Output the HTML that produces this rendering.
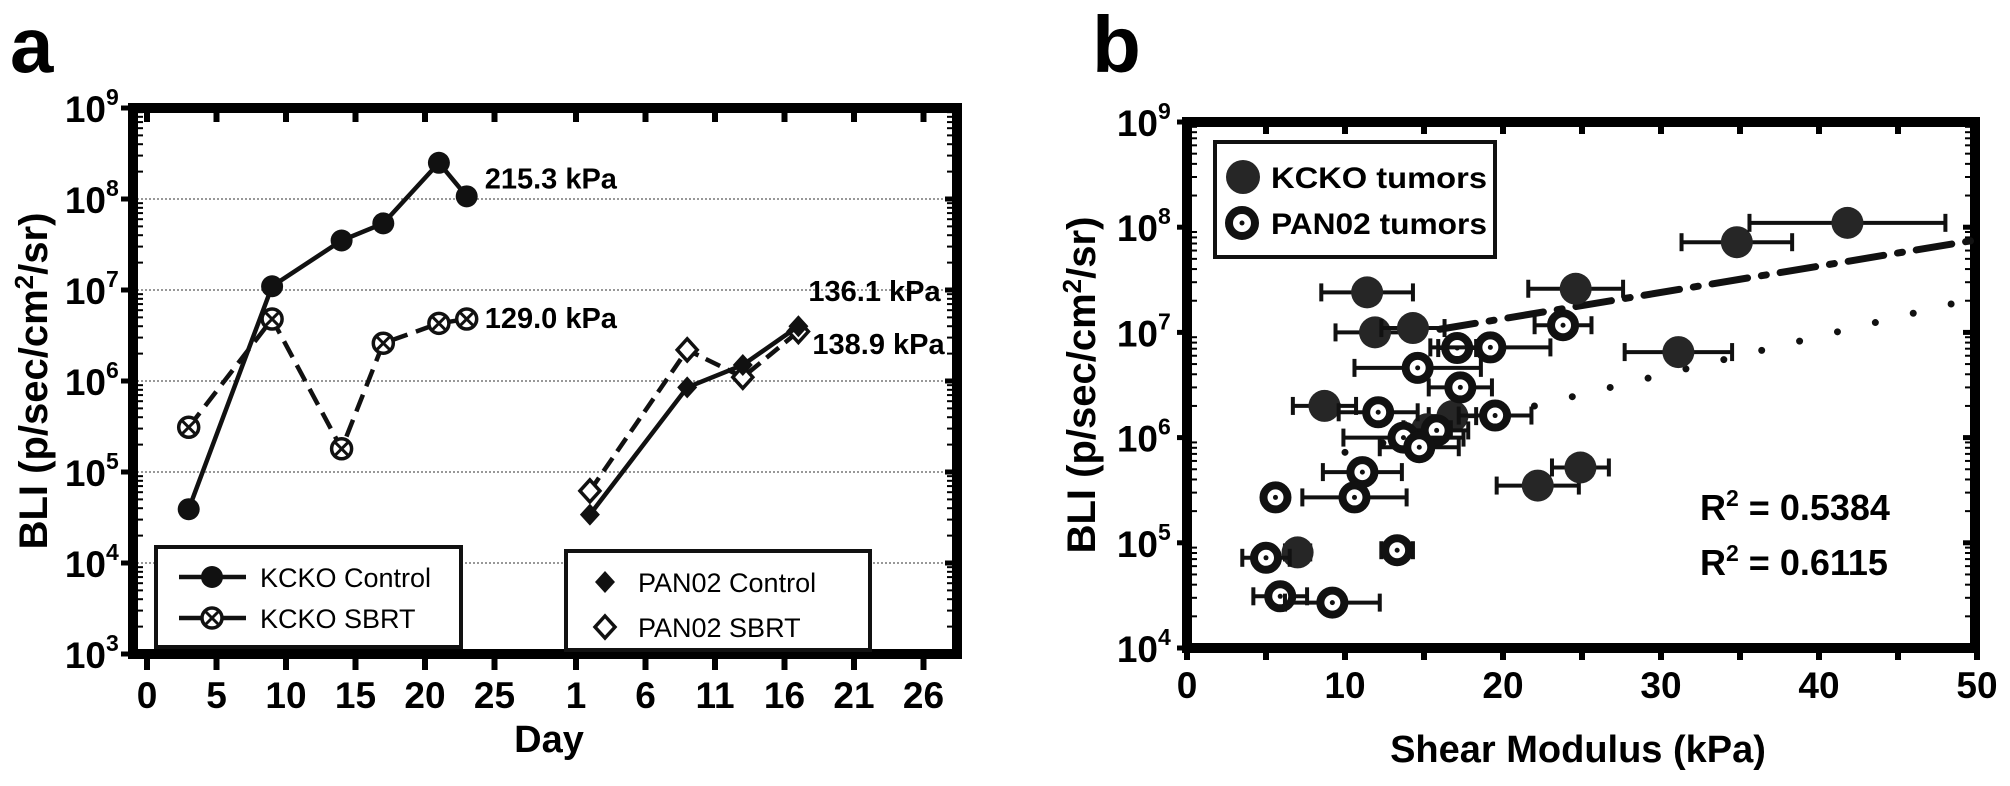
<!DOCTYPE html>
<html><head><meta charset="utf-8"><style>
html,body{margin:0;padding:0;background:#fff;}
svg{display:block;font-family:"Liberation Sans",Arial,sans-serif;}
</style></head><body>
<svg id="fig" width="2010" height="786" viewBox="0 0 2010 786">
<g id="pa"></g>
<g id="pb"></g>
</svg>
<script>
// ---------- Panel A data ----------
const kckoDays = [3, 9, 14, 17, 21, 23];
const kckoControl = [3.9e4, 1.1e7, 3.5e7, 5.4e7, 2.5e8, 1.07e8];
const kckoSbrt = [3.1e5, 4.8e6, 1.8e5, 2.6e6, 4.3e6, 4.8e6];
const panDays = [2, 9, 13, 17];
const panControl = [3.4e4, 8.5e5, 1.5e6, 4.0e6];
const panSbrt = [6.2e4, 2.2e6, 1.1e6, 3.5e6];
const aXTicksSeg0 = [0, 5, 10, 15, 20, 25];
const aXTicksSeg1 = [1, 6, 11, 16, 21, 26];
const aYDecades = [3, 4, 5, 6, 7, 8, 9];
const aNotes = ["215.3 kPa", "129.0 kPa", "136.1 kPa", "138.9 kPa"];
// ---------- Panel B data ----------
const kckoShear = [11.4, 11.9, 14.3, 8.7, 7.0, 16.8, 22.2, 24.9, 24.6, 34.8, 41.8, 31.1, 15.2];
const kckoBli = [2.4e7, 1.0e7, 1.1e7, 2.0e6, 8.1e4, 1.6e6, 3.5e5, 5.2e5, 2.6e7, 7.2e7, 1.1e8, 6.5e6, 1.2e6];
const kckoErr = [2.9, 2.5, 2.0, 2.0, 0.8, 1.5, 2.6, 1.8, 3.0, 3.5, 6.2, 3.4, 1.5];
const panShear = [23.8, 17.1, 19.2, 14.6, 17.3, 12.1, 19.5, 15.8, 13.7, 14.7, 11.1, 10.6, 5.6, 13.3, 5.0, 5.9, 9.2];
const panBli = [1.17e7, 7.1e6, 7.2e6, 4.6e6, 3.0e6, 1.74e6, 1.62e6, 1.17e6, 1.0e6, 8.1e5, 4.7e5, 2.7e5, 2.7e5, 8.5e4, 7.2e4, 3.1e4, 2.7e4];
const panErr = [1.8, 1.2, 3.8, 4.0, 2.0, 2.5, 2.3, 2.0, 3.8, 2.5, 2.5, 3.3, 0.6, 1.0, 1.5, 1.7, 3.0];
const fitKcko = [[16, 7.03], [50, 7.88]];
const fitPan = [[10, 5.86], [50, 7.33]];
const bXTicks = [0, 10, 20, 30, 40, 50];
const bYDecades = [4, 5, 6, 7, 8, 9];
const rSquared = ["0.5384", "0.6115"];

const NS = "http://www.w3.org/2000/svg";
function mk(parent, tag, attrs, text) {
  const e = document.createElementNS(NS, tag);
  for (const k in attrs) e.setAttribute(k, attrs[k]);
  if (text !== undefined) e.textContent = text;
  parent.appendChild(e);
  return e;
}
const A = document.getElementById('pa');
const B = document.getElementById('pb');

// ---------- Panel A ----------
const aL = 133, aR = 957, aT = 108, aB = 654;
function ayA(v) { return aB - (Math.log10(v) - 3) * 91; }
function ayLog(l) { return aB - (l - 3) * 91; }
function axA0(d) { return 147 + 13.9 * d; }
function axA1(d) { return 576 + 13.9 * (d - 1); }

let t = mk(A, 'text', {x: 10, y: 72, 'font-size': 78, 'font-weight': 'bold'}, 'a');



// grid
aYDecades.forEach(d => {
  if (d > 3 && d < 9) {
    const g = mk(A, 'line', {x1: aL, x2: aR, y1: ayLog(d), y2: ayLog(d), stroke: '#777', 'stroke-width': 1.5, 'stroke-dasharray': '2 2'});
    
    
  }
});
// minor ticks
for (let d = 3; d < 9; d++) {
  for (let m = 2; m <= 9; m++) {
    const y = ayLog(d + Math.log10(m));
    mk(A, 'line', {x1: aL, x2: aL + 10, y1: y, y2: y, stroke: '#000', 'stroke-width': 2});
    mk(A, 'line', {x1: aR - 10, x2: aR, y1: y, y2: y, stroke: '#000', 'stroke-width': 2});
  }
}
// y tick labels
aYDecades.forEach(d => {
  const y = ayLog(d);
  mk(A, 'line', {x1: aL - 12, x2: aL, y1: y, y2: y, stroke: '#000', 'stroke-width': 5});
  mk(A, 'line', {x1: aR, x2: aR - 12, y1: y, y2: y, stroke: '#000', 'stroke-width': 5});
  const tl = mk(A, 'text', {x: 106, y: y + 14, 'font-size': 37, 'font-weight': 'bold', 'text-anchor': 'end'}, '10');
  
  
  mk(A, 'text', {x: 106, y: y - 3, 'font-size': 23, 'font-weight': 'bold'}, String(d));
});
// x ticks
aXTicksSeg0.forEach(d => {
  const x = axA0(d);
  mk(A, 'line', {x1: x, x2: x, y1: aB, y2: aB + 16, stroke: '#000', 'stroke-width': 6});
  mk(A, 'line', {x1: x, x2: x, y1: aT, y2: aT + 14, stroke: '#000', 'stroke-width': 6});
  const tl = mk(A, 'text', {x: x, y: 708, 'font-size': 37, 'font-weight': 'bold', 'text-anchor': 'middle'}, String(d));
  
  
});
aXTicksSeg1.forEach(d => {
  const x = axA1(d);
  mk(A, 'line', {x1: x, x2: x, y1: aB, y2: aB + 16, stroke: '#000', 'stroke-width': 6});
  mk(A, 'line', {x1: x, x2: x, y1: aT, y2: aT + 14, stroke: '#000', 'stroke-width': 6});
  const tl = mk(A, 'text', {x: x, y: 708, 'font-size': 37, 'font-weight': 'bold', 'text-anchor': 'middle'}, String(d));
  
  
});
// axis frame
let fr = mk(A, 'rect', {x: aL, y: aT, width: aR - aL, height: aB - aT, fill: 'none', stroke: '#000', 'stroke-width': 10});



// titles
t = mk(A, 'text', {x: 549, y: 752, 'font-size': 38, 'font-weight': 'bold', 'text-anchor': 'middle'}, 'Day');


t = mk(A, 'text', {x: 0, y: 0, 'font-size': 40, 'font-weight': 'bold', 'text-anchor': 'middle', transform: 'translate(47,381) rotate(-90)'});


t.innerHTML = 'BLI (p/sec/cm<tspan font-size="26" dy="-14">2</tspan><tspan dy="14">/sr)</tspan>';

function marker(parent, kind, x, y) {
  let e;
  if (kind === 'dot') {
    e = mk(parent, 'circle', {cx: x, cy: y, r: 11, fill: '#111'});
  } else if (kind === 'otimes') {
    e = mk(parent, 'g', {});
    mk(e, 'circle', {cx: x, cy: y, r: 10, fill: '#fff', stroke: '#111', 'stroke-width': 3.5});
    mk(e, 'line', {x1: x - 7, y1: y - 7, x2: x + 7, y2: y + 7, stroke: '#111', 'stroke-width': 3});
    mk(e, 'line', {x1: x - 7, y1: y + 7, x2: x + 7, y2: y - 7, stroke: '#111', 'stroke-width': 3});
  } else if (kind === 'dia') {
    e = mk(parent, 'path', {d: `M${x},${y-11}L${x+10},${y}L${x},${y+11}L${x-10},${y}Z`, fill: '#111'});
  } else {
    e = mk(parent, 'path', {d: `M${x},${y-11}L${x+10},${y}L${x},${y+11}L${x-10},${y}Z`, fill: '#fff', stroke: '#111', 'stroke-width': 3.5});
  }
  return e;
}
function series(xs, ys, xf, dash, kind, name) {
  const g = mk(A, 'g', {});
  
  
  const pts = xs.map((d, i) => xf(d) + ',' + ayA(ys[i])).join(' ');
  const pl = mk(g, 'polyline', {points: pts, fill: 'none', stroke: '#111', 'stroke-width': 4.5, 'stroke-dasharray': dash});
  
  
  xs.forEach((d, i) => {
    const m = marker(g, kind, xf(d), ayA(ys[i]));
    
    
  });
}
series(kckoDays, kckoSbrt, axA0, '18 9', 'otimes', 'kcko-sbrt');
series(kckoDays, kckoControl, axA0, 'none', 'dot', 'kcko-control');
series(panDays, panSbrt, axA1, '16 8', 'odia', 'pan02-sbrt');
series(panDays, panControl, axA1, 'none', 'dia', 'pan02-control');

// annotations
const noteX = [axA0(kckoDays[5]) + 18, axA0(kckoDays[5]) + 18, axA1(panDays[3]) + 10, axA1(panDays[3]) + 14];
const noteY = [ayA(kckoControl[5]) - 8, ayA(kckoSbrt[5]) + 9, 301, 354];
aNotes.forEach((s, i) => {
  const n = mk(A, 'text', {x: noteX[i], y: noteY[i], 'font-size': 29, 'font-weight': 'bold'}, s);
  
  
});

// legends panel a
function legendBox(parent, x, y, w, h, name) {
  const r = mk(parent, 'rect', {x: x, y: y, width: w, height: h, fill: '#fff', stroke: '#111', 'stroke-width': 4});
  
  
}
legendBox(A, 156, 547, 305, 100, 'legend-kcko');
legendBox(A, 566, 551, 304, 99, 'legend-pan02');
mk(A, 'line', {x1: 179, x2: 246, y1: 577, y2: 577, stroke: '#111', 'stroke-width': 4.5});
marker(A, 'dot', 212, 577);
mk(A, 'line', {x1: 179, x2: 246, y1: 618, y2: 618, stroke: '#111', 'stroke-width': 4.5});
marker(A, 'otimes', 212, 618);
marker(A, 'dia', 605, 582);
marker(A, 'odia', 605, 627);
const legA = [['KCKO Control', 260, 587], ['KCKO SBRT', 260, 628], ['PAN02 Control', 638, 592], ['PAN02 SBRT', 638, 637]];
legA.forEach(l => {
  const e = mk(A, 'text', {x: l[1], y: l[2], 'font-size': 27}, l[0]);
  
  
});

// ---------- Panel B ----------
const bL = 1187, bR = 1975, bT = 122, bB = 648;
function bx(v) { return bL + 15.8 * v; }
function byLog(l) { return bB - (l - 4) * 105.2; }
function by(v) { return byLog(Math.log10(v)); }

t = mk(B, 'text', {x: 1092, y: 72, 'font-size': 80, 'font-weight': 'bold'}, 'b');



for (let d = 4; d < 9; d++) {
  for (let m = 2; m <= 9; m++) {
    const y = byLog(d + Math.log10(m));
    mk(B, 'line', {x1: bL, x2: bL + 10, y1: y, y2: y, stroke: '#000', 'stroke-width': 2});
    mk(B, 'line', {x1: bR - 10, x2: bR, y1: y, y2: y, stroke: '#000', 'stroke-width': 2});
  }
}
bYDecades.forEach(d => {
  const y = byLog(d);
  mk(B, 'line', {x1: bL - 10, x2: bL, y1: y, y2: y, stroke: '#000', 'stroke-width': 5});
  mk(B, 'line', {x1: bR, x2: bR - 12, y1: y, y2: y, stroke: '#000', 'stroke-width': 5});
  const tl = mk(B, 'text', {x: 1158, y: y + 14, 'font-size': 37, 'font-weight': 'bold', 'text-anchor': 'end'}, '10');
  
  
  mk(B, 'text', {x: 1158, y: y - 3, 'font-size': 23, 'font-weight': 'bold'}, String(d));
});
for (let v = 0; v <= 50; v += 5) {
  const x = bx(v);
  mk(B, 'line', {x1: x, x2: x, y1: bB, y2: bB + 12, stroke: '#000', 'stroke-width': 6});
  mk(B, 'line', {x1: x, x2: x, y1: bT, y2: bT + 12, stroke: '#000', 'stroke-width': 6});
}
bXTicks.forEach(v => {
  const tl = mk(B, 'text', {x: bx(v), y: 698, 'font-size': 37, 'font-weight': 'bold', 'text-anchor': 'middle'}, String(v));
  
  
});
fr = mk(B, 'rect', {x: bL, y: bT, width: bR - bL, height: bB - bT, fill: 'none', stroke: '#000', 'stroke-width': 10});



t = mk(B, 'text', {x: 1578, y: 762, 'font-size': 38, 'font-weight': 'bold', 'text-anchor': 'middle'}, 'Shear Modulus (kPa)');


t = mk(B, 'text', {x: 0, y: 0, 'font-size': 40, 'font-weight': 'bold', 'text-anchor': 'middle', transform: 'translate(1095,385) rotate(-90)'});


t.innerHTML = 'BLI (p/sec/cm<tspan font-size="26" dy="-14">2</tspan><tspan dy="14">/sr)</tspan>';

// fit lines
let fl = mk(B, 'line', {x1: bx(fitKcko[0][0]), y1: byLog(fitKcko[0][1]), x2: bx(fitKcko[1][0]), y2: byLog(fitKcko[1][1]), stroke: '#111', 'stroke-width': 7, 'stroke-dasharray': '36 14 5 14', 'stroke-linecap': 'round'});


fl = mk(B, 'line', {x1: bx(fitPan[0][0]), y1: byLog(fitPan[0][1]), x2: bx(fitPan[1][0]), y2: byLog(fitPan[1][1]), stroke: '#111', 'stroke-width': 7, 'stroke-dasharray': '0 39', 'stroke-linecap': 'round'});



function errBar(g, x, y, e) {
  mk(g, 'line', {x1: bx(x - e), x2: bx(x + e), y1: y, y2: y, stroke: '#111', 'stroke-width': 4});
  mk(g, 'line', {x1: bx(x - e), x2: bx(x - e), y1: y - 9, y2: y + 9, stroke: '#111', 'stroke-width': 4});
  mk(g, 'line', {x1: bx(x + e), x2: bx(x + e), y1: y - 9, y2: y + 9, stroke: '#111', 'stroke-width': 4});
}
kckoShear.forEach((s, i) => {
  const g = mk(B, 'g', {});
  
  
  const y = by(kckoBli[i]);
  errBar(g, s, y, kckoErr[i]);
  mk(g, 'circle', {cx: bx(s), cy: y, r: 16, fill: '#262626'});
});
panShear.forEach((s, i) => {
  const g = mk(B, 'g', {});
  
  
  const y = by(panBli[i]);
  errBar(g, s, y, panErr[i]);
  mk(g, 'circle', {cx: bx(s), cy: y, r: 12, fill: '#fff', stroke: '#111', 'stroke-width': 8});
  mk(g, 'circle', {cx: bx(s), cy: y, r: 2.5, fill: '#111'});
});

// legend b
legendBox(B, 1215, 142, 280, 115, 'legend-tumors');
mk(B, 'circle', {cx: 1243, cy: 177, r: 17, fill: '#262626'});
mk(B, 'circle', {cx: 1242, cy: 223, r: 13, fill: '#fff', stroke: '#111', 'stroke-width': 8});
mk(B, 'circle', {cx: 1242, cy: 223, r: 2.5, fill: '#111'});
[['KCKO tumors', 188], ['PAN02 tumors', 234]].forEach(l => {
  const e = mk(B, 'text', {x: 1271, y: l[1], 'font-size': 30, 'font-weight': 'bold', textLength: 216, lengthAdjust: 'spacingAndGlyphs'}, l[0]);
  
  
});
// R2
rSquared.forEach((r, i) => {
  const e = mk(B, 'text', {x: 1700, y: 520 + i * 55, 'font-size': 36, 'font-weight': 'bold'});
  
  
  e.innerHTML = 'R<tspan font-size="23" dy="-14">2</tspan><tspan dy="14"> = ' + r + '</tspan>';
});
</script>
</body></html>
